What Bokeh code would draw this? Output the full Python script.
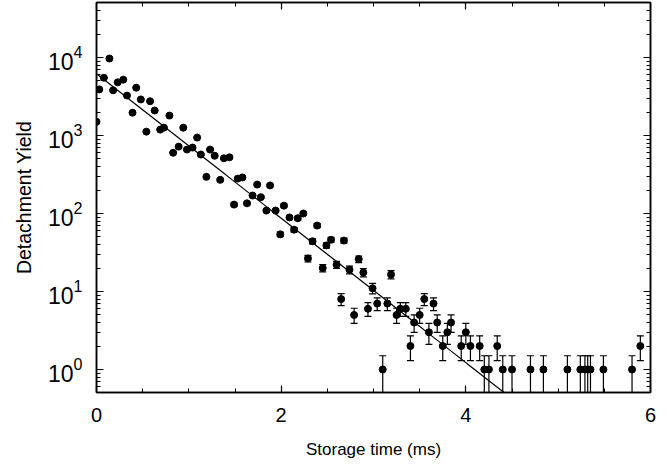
import numpy as np
from bokeh.plotting import figure
from bokeh.models import (ColumnDataSource, Whisker, TeeHead, LinearAxis, LogAxis,
                          Range1d, LogTicker, SingleIntervalTicker, CustomJSTickFormatter)
from bokeh.embed import file_html
from bokeh.resources import INLINE

# ---- data ----
time_ms = [0.00, 0.03, 0.08, 0.14, 0.18, 0.23, 0.29, 0.33, 0.39, 0.43,
           0.48, 0.54, 0.58, 0.63, 0.69, 0.73, 0.79, 0.83, 0.89, 0.94,
           0.98, 1.04, 1.09, 1.13, 1.19, 1.23, 1.28, 1.34, 1.38, 1.44,
           1.49, 1.53, 1.58, 1.63, 1.69, 1.74, 1.78, 1.84, 1.88, 1.94,
           1.99, 2.03, 2.09, 2.14, 2.18, 2.24, 2.29, 2.34, 2.39, 2.45,
           2.49, 2.54, 2.60, 2.65, 2.68, 2.74, 2.79, 2.84, 2.89, 2.94,
           2.99, 3.04, 3.10, 3.15, 3.19, 3.25, 3.29, 3.35, 3.40, 3.44,
           3.50, 3.55, 3.60, 3.65, 3.69, 3.75, 3.80, 3.84, 3.95, 4.00,
           4.05, 4.15, 4.20, 4.25, 4.34, 4.40, 4.50, 4.70, 4.84, 5.10,
           5.24, 5.29, 5.32, 5.35, 5.49, 5.80, 5.89]
yield_counts = [1500, 3900, 5500, 9700, 3800, 4800, 5200, 3250, 1960, 4100,
                2900, 1120, 2750, 2090, 1190, 1260, 1800, 600, 720, 1260,
                660, 700, 940, 570, 295, 660, 550, 270, 510, 525,
                130, 280, 290, 135, 170, 235, 162, 109, 229, 109,
                54, 126, 89, 62, 87, 100, 26.5, 44, 70, 20,
                39, 46, 22, 8, 45, 19, 5, 26, 17.5, 6,
                11, 7, 1, 7, 16.5, 5, 6, 6, 2, 4,
                5, 8, 3, 7, 4, 2, 3, 4, 2, 3,
                2, 2, 1, 1, 2, 1, 1, 1, 1, 1,
                1, 1, 1, 1, 1, 1, 2]
yield_err = [19.4, 31.2, 37.1, 49.2, 30.8, 34.6, 36.1, 28.5, 22.1, 32.0,
             26.9, 16.7, 26.2, 22.9, 17.2, 17.7, 21.2, 12.2, 13.4, 17.7,
             12.8, 13.2, 15.3, 11.9, 8.6, 12.8, 11.7, 8.2, 11.3, 11.5,
             5.7, 8.4, 8.5, 5.8, 6.5, 7.7, 6.4, 5.2, 7.6, 5.2,
             3.7, 5.6, 4.7, 3.9, 4.7, 5.0, 2.6, 3.3, 4.2, 2.2,
             3.1, 3.4, 2.3, 1.4, 3.4, 2.2, 1.1, 2.5, 2.1, 1.2,
             1.7, 1.3, 0.5, 1.3, 2.0, 1.1, 1.2, 1.2, 0.7, 1.0,
             1.1, 1.4, 0.9, 1.3, 1.0, 0.7, 0.9, 1.0, 0.7, 0.9,
             0.7, 0.7, 0.5, 0.5, 0.7, 0.5, 0.5, 0.5, 0.5, 0.5,
             0.5, 0.5, 0.5, 0.5, 0.5, 0.5, 0.7]
fit_amplitude = 6200.0   # counts at t = 0
fit_lifetime = 0.469     # ms
fit_t_end = 4.5

x_ticks_interval = 2
x_label = "Storage time (ms)"
y_label = "Detachment Yield"

# ---- figure ----
FONT = "Liberation Sans"
p = figure(frame_width=554, frame_height=390, y_axis_type="log",
           x_range=Range1d(0, 6), y_range=Range1d(0.507, 50700),
           output_backend="svg", toolbar_location=None,
           min_border_left=96, min_border_right=8, min_border_top=2,
           min_border_bottom=0)
p.grid.visible = False
p.outline_line_color = "black"
p.outline_line_width = 1.5
p.background_fill_color = "white"
p.border_fill_color = "white"

def style_axis(ax, labels=True):
    ax.axis_line_color = "black"
    ax.axis_line_width = 1.5
    ax.major_tick_in = 7
    ax.major_tick_out = 0
    ax.minor_tick_in = 4
    ax.minor_tick_out = 0
    ax.major_tick_line_width = 1.2
    ax.minor_tick_line_width = 1
    if labels:
        ax.major_label_text_font = FONT
        ax.major_label_text_color = "black"
        ax.axis_label_text_font = FONT
        ax.axis_label_text_font_style = "normal"
        ax.axis_label_text_color = "black"
    else:
        ax.major_label_text_font_size = "0px"
        ax.major_label_standoff = 0
        ax.formatter = CustomJSTickFormatter(code="return '';")

xa = p.xaxis[0]
xa.ticker = SingleIntervalTicker(interval=x_ticks_interval, num_minor_ticks=4)
style_axis(xa)
xa.axis_label = x_label
xa.major_label_text_font_size = "20px"
xa.axis_label_text_font_size = "17px"
xa.major_label_standoff = 15
xa.axis_label_standoff = 15

ya = p.yaxis[0]
ya.ticker = LogTicker(num_minor_ticks=10)
style_axis(ya)
ya.axis_label = y_label
ya.major_label_text_font_size = "23px"
ya.axis_label_text_font_size = "19.5px"
ya.major_label_standoff = 14
ya.axis_label_standoff = 10

top = LinearAxis(ticker=SingleIntervalTicker(interval=x_ticks_interval, num_minor_ticks=4))
style_axis(top, labels=False)
p.add_layout(top, "above")
right = LogAxis(ticker=LogTicker(num_minor_ticks=10))
style_axis(right, labels=False)
p.add_layout(right, "right")

# ---- fit line ----
t_fit = np.linspace(0, fit_t_end, 60)
y_fit = fit_amplitude * np.exp(-t_fit / fit_lifetime)
p.line(t_fit, y_fit, line_color="black", line_width=1.2)

# ---- error bars ----
t = np.array(time_ms)
yv = np.array(yield_counts, dtype=float)
e = np.array(yield_err)
err_src = ColumnDataSource(dict(x=t, lo=yv - e, hi=yv + e))
wh = Whisker(source=err_src, base="x", lower="lo", upper="hi", dimension="height",
             line_color="black", line_width=1.2,
             upper_head=TeeHead(size=7, line_color="black", line_width=1.2),
             lower_head=TeeHead(size=7, line_color="black", line_width=1.2))
p.add_layout(wh)

# ---- data points ----
src = ColumnDataSource(dict(x=t, y=yv))
p.scatter("x", "y", source=src, size=7, fill_color="black", line_color="black")

open("out.html", "w").write(file_html(p, INLINE))
